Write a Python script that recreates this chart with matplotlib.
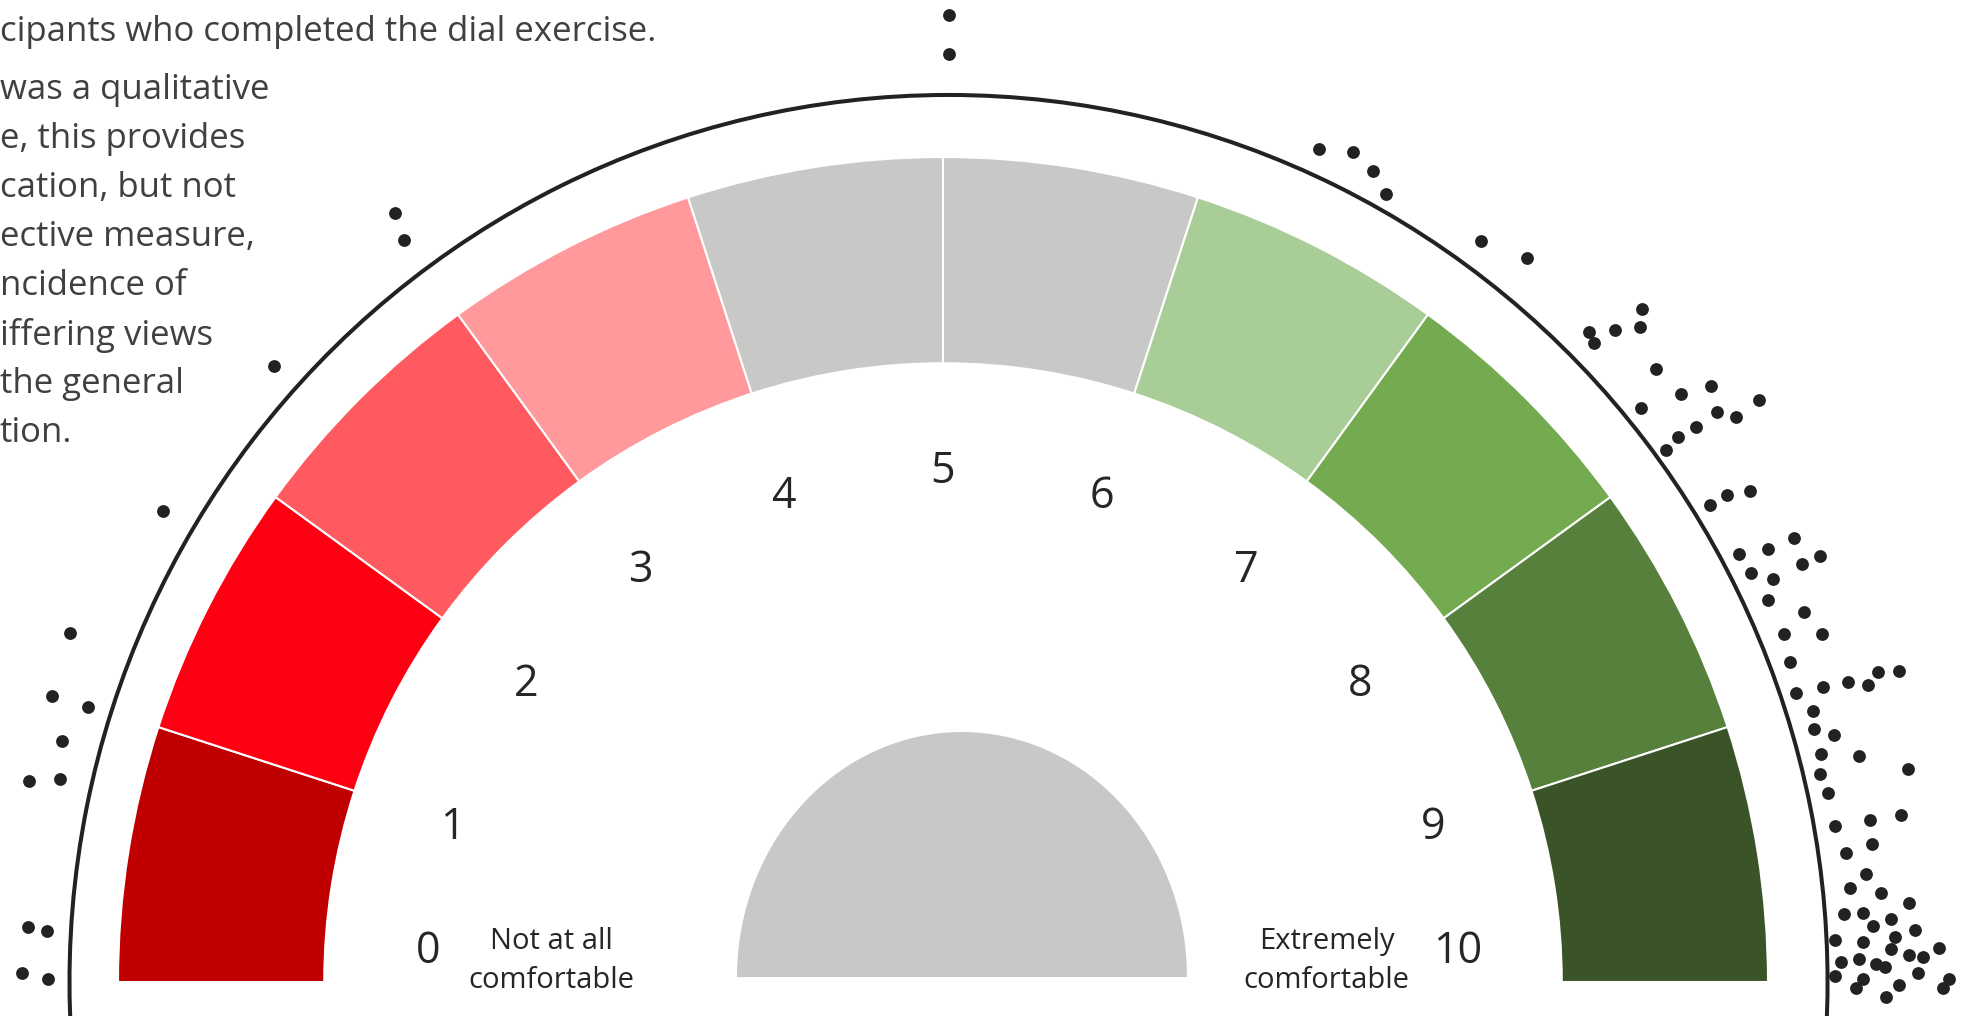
import matplotlib.pyplot as plt
import numpy as np
from matplotlib.patches import Wedge, Arc

plt.rcParams['font.family'] = ['Open Sans', 'DejaVu Sans']

# dial scale 0-10, one coloured segment per step
seg_colors = ['#C00000', '#FF0013', '#FF5A5F', '#FF999C', '#C8C8C6',
              '#C8C8C6', '#A9CD96', '#74AB50', '#56803B', '#3A5428']
tick_labels = [str(i) for i in range(11)]
tick_pos = [0.22, 1, 2, 3, 4, 5, 6, 7, 8, 9, 9.78]

# participant responses: position on the 0-10 scale, distance from dial centre
dot_score = [5.02, 5.02, 3.03, 3.00, 2.37, 1.73, 1.21, 0.99, 0.99, 0.85,
             0.69, 0.72, 0.19, 0.18, 0.03, 0.01,
             6.35, 6.46, 6.55, 6.63, 7.00, 7.16, 7.56, 7.49, 7.55, 7.60,
             7.53, 7.74, 7.90, 7.86, 8.03, 7.81, 7.98, 8.03, 7.98, 7.97,
             7.98, 8.26, 8.23, 8.23, 8.47, 8.46, 8.43, 8.56, 8.56, 8.51,
             8.56, 8.62, 8.71, 8.75, 8.80, 8.85, 8.96, 8.97, 8.98, 9.01,
             8.98, 9.00, 9.04, 9.10, 9.14, 9.19, 9.23, 9.31, 9.26, 9.33,
             9.45, 9.45, 9.45, 9.55, 9.53, 9.63, 9.67, 9.70, 9.74, 9.76,
             9.76, 9.79, 9.81, 9.83, 9.85, 9.85, 9.86, 9.89, 9.89, 9.91,
             9.92, 9.93, 9.92, 9.94, 9.95, 9.98, 9.97, 9.99, 9.99, 10.02,
             10.01, 10.02, 10.05]
dot_dist = [1.172, 1.125, 1.145, 1.112, 1.102, 1.104, 1.139, 1.134, 1.089, 1.107,
            1.135, 1.098, 1.111, 1.088, 1.116, 1.085,
            1.108, 1.122, 1.113, 1.096, 1.110, 1.127, 1.176, 1.111, 1.135, 1.159,
            1.106, 1.140, 1.178, 1.144, 1.215, 1.095, 1.165, 1.180, 1.134, 1.109,
            1.088, 1.145, 1.119, 1.095, 1.163, 1.129, 1.096, 1.182, 1.158, 1.098,
            1.118, 1.102, 1.136, 1.103, 1.146, 1.097, 1.092, 1.125, 1.156, 1.178,
            1.194, 1.219, 1.105, 1.100, 1.121, 1.100, 1.144, 1.198, 1.093, 1.097,
            1.097, 1.141, 1.179, 1.106, 1.139, 1.126, 1.105, 1.142, 1.175, 1.095,
            1.118, 1.152, 1.129, 1.180, 1.082, 1.155, 1.116, 1.208, 1.150, 1.171,
            1.188, 1.089, 1.111, 1.131, 1.142, 1.081, 1.182, 1.115, 1.219, 1.107,
            1.159, 1.212, 1.143]

top_line = "cipants who completed the dial exercise."
note_lines = ["was a qualitative", "e, this provides", "cation, but not",
              "ective measure,", "ncidence of", "iffering views",
              "the general", "tion."]

W, H = 1961, 1016
fig = plt.figure(figsize=(W / 100, H / 100), dpi=100)
ax = fig.add_axes([0, 0, 1, 1])
ax.set_xlim(-943 / 825, 1018 / 825)
ax.set_ylim(-34 / 825, 982 / 825)
ax.axis('off')


def to_angle(score):
    return np.deg2rad(180 - 18 * np.asarray(score))


# coloured segments
for i, col in enumerate(seg_colors):
    ax.add_patch(Wedge((0, 0), 1.0, 180 - 18 * (i + 1), 180 - 18 * i, width=0.25,
                       facecolor=col, edgecolor='white', linewidth=1.5, zorder=2))

# outer black rim
ax.add_patch(Arc((0.0067, 0), 2 * 1.0655, 2 * 1.0752, theta1=-15, theta2=195,
                 color='#222222', linewidth=2.9, zorder=2))

# grey hub
t = np.linspace(0, np.pi, 200)
ax.fill(0.023 + 0.2727 * np.cos(t), 0.006 + 0.297 * np.sin(t),
        color='#C8C8C8', linewidth=0, zorder=2)

# scale numbers
ang = to_angle(tick_pos)
for a, lab in zip(ang, tick_labels):
    ax.text(0.625 * np.cos(a), 0.625 * np.sin(a), lab, fontsize=31,
            color='#262626', ha='center', va='center_baseline')

ax.text(-0.475, 0.025, "Not at all\ncomfortable", fontsize=21, color='#262626',
        ha='center', va='center', linespacing=1.45)
ax.text(0.465, 0.025, "Extremely\ncomfortable", fontsize=21, color='#262626',
        ha='center', va='center', linespacing=1.45)

# responses
da = to_angle(dot_score)
dd = np.asarray(dot_dist)
ax.scatter(dd * np.cos(da), dd * np.sin(da), s=85, color='#222222',
           linewidths=0, zorder=3, clip_on=False)

# side note (cut at the left edge)
fig.text(0, 1 - 32 / H, top_line, fontsize=25, color='#404040', va='center')
for k, line in enumerate(note_lines):
    fig.text(0, 1 - (90 + 49 * k) / H, line, fontsize=25, color='#404040',
             va='center')

fig.savefig('out.png', dpi=100)
